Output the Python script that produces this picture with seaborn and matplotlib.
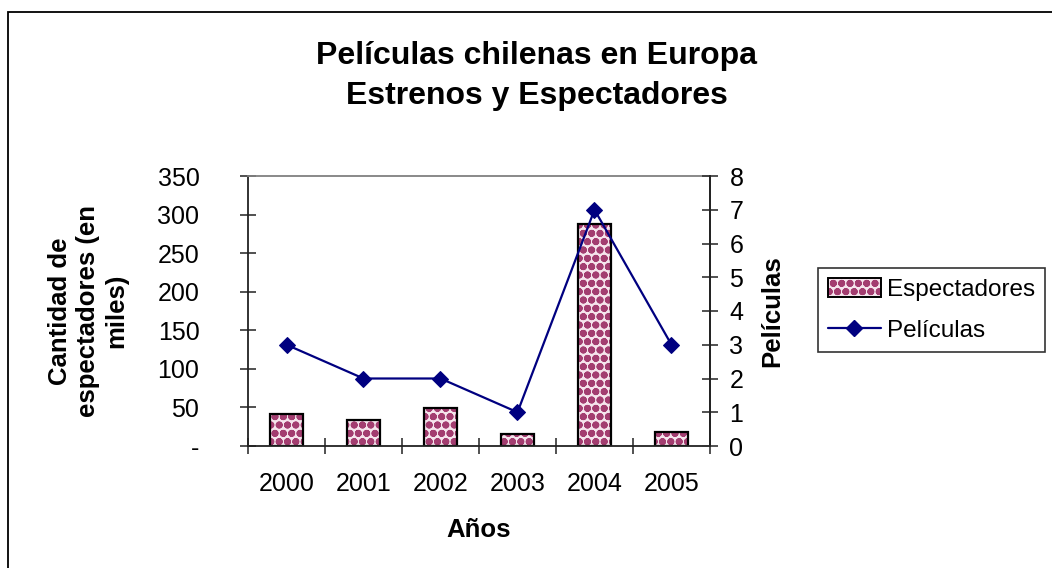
import numpy as np
import pandas as pd
import matplotlib
matplotlib.use("Agg")
import matplotlib.pyplot as plt
from matplotlib.patches import Rectangle, Patch
from matplotlib.lines import Line2D
from matplotlib.ticker import FixedLocator, FuncFormatter
import seaborn as sns

# Data
years = ["2000", "2001", "2002", "2003", "2004", "2005"]
espectadores = [42, 34, 49, 16, 288, 18]   # thousands of viewers
peliculas = [3, 2, 2, 1, 7, 3]              # number of films released

sns.set_theme(style="white")
plt.rcParams["font.family"] = ["Liberation Sans", "DejaVu Sans"]
plt.rcParams["hatch.linewidth"] = 2.6
for key in ["text.color", "axes.labelcolor", "xtick.labelcolor", "ytick.labelcolor"]:
    plt.rcParams[key] = "black"

BAR_COLOR = "#a33d70"
BAR_BG = "#f5e4ec"
LINE_COLOR = "#000080"
HATCH = "oo"

df = pd.DataFrame({"Año": years, "Espectadores": espectadores,
                   "Películas": peliculas, "pos": np.arange(len(years))})

W, H = 1052, 568
fig = plt.figure(figsize=(W / 100, H / 100), dpi=100)
fig.patch.set_facecolor("white")
ax = fig.add_axes([248 / W, 1 - 446 / H, (710 - 248) / W, (446 - 176) / H])

# Bars: patterned fill, then black outline on top
sns.barplot(data=df, x="Año", y="Espectadores", ax=ax, width=0.42,
            color=BAR_BG, edgecolor=BAR_COLOR, linewidth=0, hatch=HATCH,
            saturation=1, errorbar=None)
sns.barplot(data=df, x="Año", y="Espectadores", ax=ax, width=0.42,
            fill=False, edgecolor="black", linewidth=1.6, errorbar=None)

ax.set_xlim(-0.5, len(years) - 0.5)
ax.set_ylim(0, 350)
ax.yaxis.set_major_locator(FixedLocator(np.arange(0, 351, 50)))
ax.yaxis.set_major_formatter(FuncFormatter(lambda v, p: "-" if v == 0 else f"{v:.0f}"))

# Secondary axis for number of films
ax2 = ax.twinx()
sns.lineplot(data=df, x="pos", y="Películas", ax=ax2, color=LINE_COLOR,
             linewidth=1.6, marker="D", markersize=8, markeredgecolor=LINE_COLOR)
ax2.set_ylim(0, 8)
ax2.yaxis.set_major_locator(FixedLocator(np.arange(0, 9, 1)))
ax2.set_xlim(-0.5, len(years) - 0.5)

# Spines
for s in ["left", "bottom", "right"]:
    ax.spines[s].set_color("#222222")
    ax.spines[s].set_linewidth(1.3)
ax.spines["top"].set_color("#808080")
ax.spines["top"].set_linewidth(1.3)
for s in ["top", "left", "bottom"]:
    ax2.spines[s].set_visible(False)
ax2.spines["right"].set_color("#222222")
ax2.spines["right"].set_linewidth(1.3)

# Ticks
ax.set_xticks(np.arange(len(years)))
ax.set_xticklabels(years)
ax.xaxis.set_minor_locator(FixedLocator(np.arange(-0.5, len(years), 1.0)))
ax.tick_params(axis="x", which="major", length=0, pad=19, labelsize=18)
ax.tick_params(axis="x", which="minor", direction="inout", length=12, width=1.2,
               color="#333333", bottom=True)
ax.tick_params(axis="y", direction="inout", length=12, width=1.2, color="#333333",
               pad=29, labelsize=18, left=True)
ax2.tick_params(axis="y", direction="inout", length=12, width=1.2, color="#333333",
                pad=8, labelsize=18, right=True)

# Axis labels
ax.set_xlabel("Años", fontsize=18.5, fontweight="bold")
ax.xaxis.set_label_coords((479 - 248) / 462, (446 - 530) / 270)
ax.xaxis.label.set_verticalalignment("center")
ax.set_ylabel("Cantidad de\nespectadores (en\nmiles)", fontsize=18.5,
              fontweight="bold", linespacing=1.2)
ax.yaxis.set_label_coords((88 - 248) / 462, 0.5)
ax.yaxis.label.set_verticalalignment("center")
ax2.set_ylabel("Películas", fontsize=18.5, fontweight="bold")
ax2.yaxis.set_label_coords((772 - 248) / 462, 0.5)
ax2.yaxis.label.set_verticalalignment("center")

# Title
fig.suptitle("Películas chilenas en Europa\nEstrenos y Espectadores",
             x=537 / W, y=1 - 76 / H, va="center", fontsize=23,
             fontweight="bold", linespacing=1.45, color="black")

# Legend
bar_handle = (Patch(facecolor=BAR_BG, edgecolor=BAR_COLOR, hatch=HATCH, linewidth=0),
              Patch(fill=False, edgecolor="black", linewidth=1.4))
line_handle = Line2D([], [], color=LINE_COLOR, linewidth=1.6, marker="D",
                     markersize=8, markeredgecolor=LINE_COLOR)
leg = fig.legend([bar_handle, line_handle], ["Espectadores", "Películas"],
                 loc="center left", bbox_to_anchor=(818 / W, 1 - 310 / H),
                 fontsize=17.5, frameon=True, fancybox=False, shadow=False,
                 handlelength=2.2, handleheight=0.8, handletextpad=0.25,
                 borderpad=0.4, borderaxespad=0, labelspacing=0.75)
leg.get_frame().set_edgecolor("black")
leg.get_frame().set_linewidth(1.2)

# Chart border
fig.patches.append(Rectangle((8 / W, -0.1), 1.2, 1 - 12 / H + 0.1,
                             transform=fig.transFigure, fill=False,
                             edgecolor="black", linewidth=1.3))

fig.savefig("out.png", dpi=100)
